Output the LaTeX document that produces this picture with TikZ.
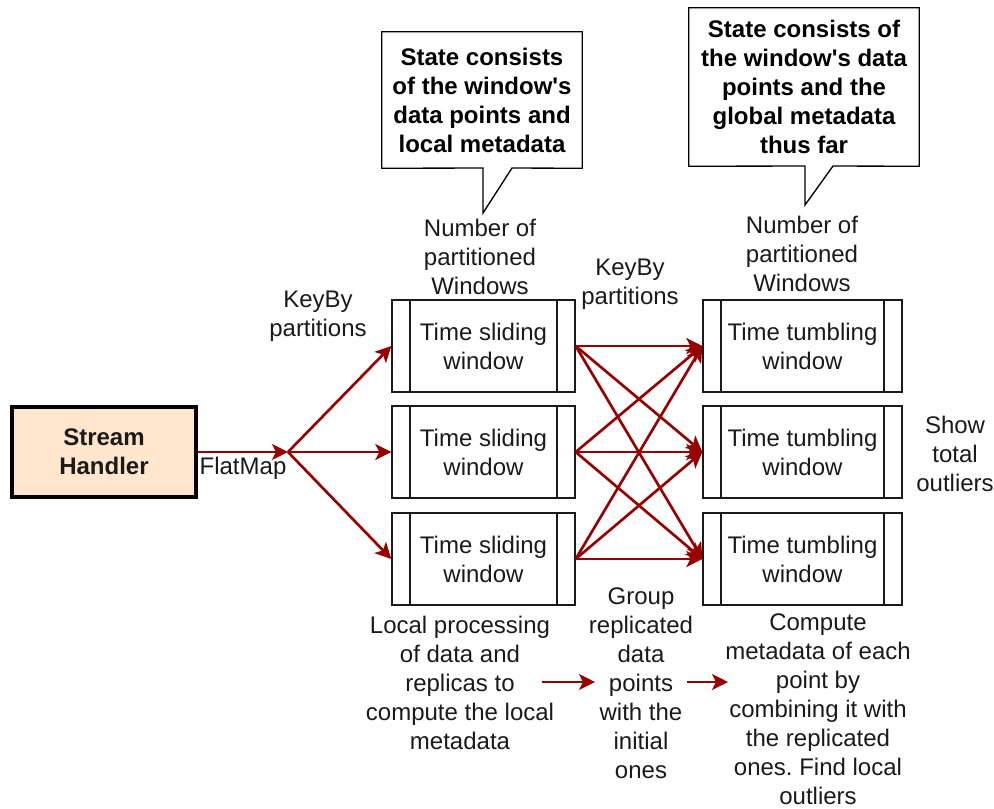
\documentclass[tikz,border=0pt]{standalone}
\usepackage{fontspec}
\setmainfont{Liberation Sans}
\usetikzlibrary{arrows.meta}
\definecolor{darkred}{HTML}{990000}
\definecolor{peach}{HTML}{FFE6CC}
\definecolor{txtgray}{HTML}{1A1A1A}
\frenchspacing

\begin{document}
\begin{tikzpicture}[x=0.75pt,y=-0.75pt,
	every node/.style={font=\fontsize{18}{21.75}\selectfont, align=center, inner sep=0pt, text=txtgray},
	handler/.style={draw=black, fill=peach, line width=3pt, minimum width=138pt, minimum height=67.5pt, font=\fontsize{18}{21.75}\selectfont\bfseries},
	slidebox/.style={draw=txtgray, line width=1pt, minimum width=137.25pt, minimum height=69pt},
	tumblebox/.style={draw=txtgray, line width=1pt, minimum width=149.25pt, minimum height=69pt},
	callout/.style={text=black, font=\fontsize{18}{21.75}\selectfont\bfseries},
	flow/.style={draw=darkred, line width=2pt, -{Stealth[length=12pt,width=12pt,inset=3pt]}}
]
	\useasboundingbox (0,0) rectangle (994,808);

	% source
	\node[handler] (sh) at (104,452) {Stream\\Handler};
	\coordinate (split) at (288,452);

	% windows
	\node[slidebox] (s1) at (483.5,346) {Time sliding\\window};
	\node[slidebox] (s2) at (483.5,452) {Time sliding\\window};
	\node[slidebox] (s3) at (483.5,559) {Time sliding\\window};
	\node[tumblebox] (t1) at (802.5,346) {Time tumbling\\window};
	\node[tumblebox] (t2) at (802.5,452) {Time tumbling\\window};
	\node[tumblebox] (t3) at (802.5,559) {Time tumbling\\window};
	\foreach \i in {1,2,3} {
		\draw[txtgray, line width=1pt] ([xshift=14pt]s\i.north west) -- ([xshift=14pt]s\i.south west);
		\draw[txtgray, line width=1pt] ([xshift=-14pt]s\i.north east) -- ([xshift=-14pt]s\i.south east);
		\draw[txtgray, line width=1pt] ([xshift=14pt]t\i.north west) -- ([xshift=14pt]t\i.south west);
		\draw[txtgray, line width=1pt] ([xshift=-14pt]t\i.north east) -- ([xshift=-14pt]t\i.south east);
	}

	% callouts
	\node[callout, minimum width=150pt, minimum height=102pt] (note1) at (482,100) {State consists\\of the window\textquotesingle s\\data points and\\local metadata};
	\draw[line width=1pt] (note1.north west) -- (note1.north east) -- (note1.south east) -- (512,168) -- (483,213) -- (483,168) -- (note1.south west) -- cycle;
	\node[callout, minimum width=172.5pt, minimum height=118.5pt] (note2) at (804,87) {State consists of\\the window\textquotesingle s data\\points and the\\global metadata\\thus far};
	\draw[line width=1pt] (note2.north west) -- (note2.north east) -- (note2.south east) -- (833,166) -- (805,205) -- (805,166) -- (note2.south west) -- cycle;

	% labels
	\node (num1) at (480,257) {Number of\\partitioned\\Windows};
	\node (num2) at (802,254) {Number of\\partitioned\\Windows};
	\node (keyby1) at (318,316) {KeyBy\\partitions};
	\node (keyby2) at (630,284) {KeyBy\\partitions};
	\node (flatmap) at (243,468) {FlatMap};
	\node (outliers) at (955,454) {Show\\total\\outliers};
	\node (local) at (460,683) {Local processing\\of data and\\replicas to\\compute the local\\metadata};
	\node (group) at (641,683.5) {Group\\replicated\\data\\points\\with the\\initial\\ones};
	\node (compute) at (818,709) {Compute\\metadata of each\\point by\\combining it with\\the replicated\\ones. Find local\\outliers};

	% arrows
	\draw[flow] (sh) -- (split);
	\foreach \i in {1,2,3}
		\draw[flow] (split) -- (s\i.west);
	\foreach \i in {1,2,3}
		\foreach \j in {1,2,3}
			\draw[flow] (s\i.east) -- (t\j.west);
	\coordinate (a1) at (542,682);
	\coordinate (a2) at (595,682);
	\coordinate (b1) at (687,682);
	\coordinate (b2) at (728,682);
	\draw[flow] (a1) -- (a2);
	\draw[flow] (b1) -- (b2);
\end{tikzpicture}
\end{document}
